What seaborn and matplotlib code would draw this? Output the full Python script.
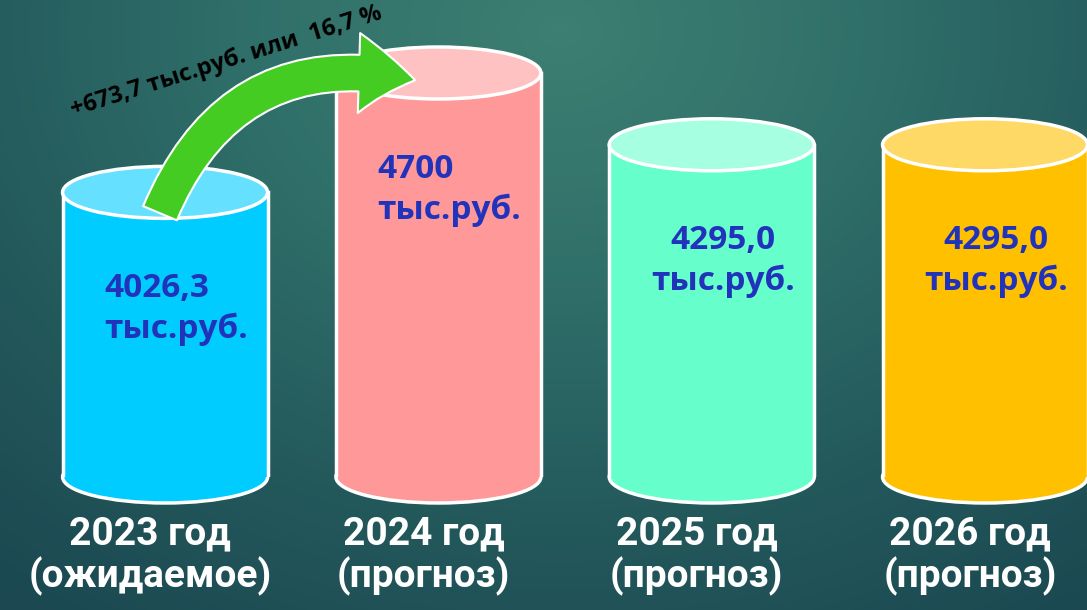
import numpy as np
import pandas as pd
import matplotlib
matplotlib.use("Agg")
import matplotlib.pyplot as plt
import matplotlib.transforms as mtransforms
from matplotlib.patches import Ellipse, FancyArrowPatch
from matplotlib.colors import LinearSegmentedColormap
import seaborn as sns

# Data
years = ["2023 год\n(ожидаемое)", "2024 год\n(прогноз)", "2025 год\n(прогноз)", "2026 год\n(прогноз)"]
values = [4026.3, 4700.0, 4295.0, 4295.0]
value_labels = ["4026,3\nтыс.руб.", "4700\nтыс.руб.", "4295,0\nтыс.руб.", "4295,0\nтыс.руб."]
growth_label = "+673,7 тыс.руб. или  16,7 %"

# Colours (body / top lid)
body_colors = ["#00CCFF", "#FF9999", "#66FFCC", "#FFC000"]
top_colors = ["#66E0FF", "#FFC2C2", "#A6FFE0", "#FFD966"]
value_color = "#2233BB"

df = pd.DataFrame({"year": years, "value": values})

sns.set_theme(style="white")
plt.rcParams["font.family"] = ["Open Sans", "DejaVu Sans"]

fig = plt.figure(figsize=(10.87, 6.10), dpi=100)

# ----------------------------
# Background gradient
# ----------------------------
bg = fig.add_axes([0, 0, 1, 1])
bg.set_axis_off()
h, w = 610, 1087
yy, xx = np.mgrid[0:h, 0:w]
r = np.sqrt(((xx - 560) / 1.0) ** 2 + ((yy - 30) / 0.8) ** 2)
r = np.clip(r / 900, 0, 1)
cmap = LinearSegmentedColormap.from_list("bg", ["#3D7F72", "#30706A", "#245A5C", "#1B4851"])
bg.imshow(r, cmap=cmap, aspect="auto", extent=[0, 1, 0, 1], vmin=0, vmax=1)
bg.set_xlim(0, 1)
bg.set_ylim(0, 1)

# ----------------------------
# Cylinders
# ----------------------------
ax = fig.add_axes([0, (610 - 477) / 610, 1, 477 / 610])
ax.patch.set_alpha(0)

sns.barplot(data=df, x="year", y="value", hue="year", palette=body_colors,
            width=0.75, saturation=1, legend=False, ax=ax, edgecolor="white",
            linewidth=2.5, zorder=3)

ax.set_xlim(-0.604, 3.373)
ymin, ymax = 2420, 5112
ax.set_ylim(ymin, ymax)
for s in ax.spines.values():
    s.set_visible(False)
ax.set_yticks([])
ax.set_ylabel("")
ax.set_xlabel("")
ax.tick_params(axis="x", length=0)

# lid height in data units (about 50 px)
px_per_unit = (477 / (ymax - ymin))
lid_h = 52 / px_per_unit

bars = sorted(ax.patches, key=lambda p: p.get_x())
for i, bar in enumerate(bars):
    cx = bar.get_x() + bar.get_width() / 2
    bw = bar.get_width()
    top = bar.get_height()
    # bottom rounded edge
    ax.add_patch(Ellipse((cx, ymin), bw, lid_h, facecolor=body_colors[i],
                         edgecolor="white", linewidth=2.5, zorder=2, clip_on=False))
    # top lid
    ax.add_patch(Ellipse((cx, top), bw, lid_h, facecolor=top_colors[i],
                         edgecolor="white", linewidth=2.5, zorder=4, clip_on=False))
    ma = "left" if i < 2 else "center"
    ax.annotate(value_labels[i], xy=(cx, top), xytext=(8, -84),
                textcoords="offset points", ha="center", va="center",
                multialignment=ma, fontsize=24, fontweight="bold",
                color=value_color, linespacing=1.3, zorder=6)

# Year labels under the cylinders
ax.set_xticks(range(len(years)))
ax.set_xticklabels(years, fontsize=28, fontweight="bold", color="white",
                   family=["Roboto", "DejaVu Sans"], linespacing=1.12)
ax.tick_params(axis="x", pad=28)
shift = mtransforms.ScaledTranslation(-15 / 100, 0, fig.dpi_scale_trans)
for lab in ax.get_xticklabels():
    lab.set_transform(lab.get_transform() + shift)

# ----------------------------
# Growth arrow 2023 -> 2024
# ----------------------------
b0, b1 = bars[0], bars[1]
start = (b0.get_x() + b0.get_width() * 0.47, b0.get_height() - lid_h * 0.45)
end = (b1.get_x() + b1.get_width() * 0.4, b1.get_height() - lid_h * 0.15)
arrow = FancyArrowPatch(start, end,
                        connectionstyle="arc3,rad=-0.42",
                        arrowstyle="simple,head_length=1.7,head_width=2.4,tail_width=1.1",
                        mutation_scale=24, facecolor="#44CC22", edgecolor="white",
                        linewidth=1.5, zorder=7, clip_on=False)
ax.add_patch(arrow)

fig.text(226 / 1087, 1 - 62 / 610, growth_label, rotation=17.5, ha="center", va="center",
         fontsize=17, fontweight="bold", color="black", rotation_mode="anchor")

fig.savefig("out.png", dpi=100)
